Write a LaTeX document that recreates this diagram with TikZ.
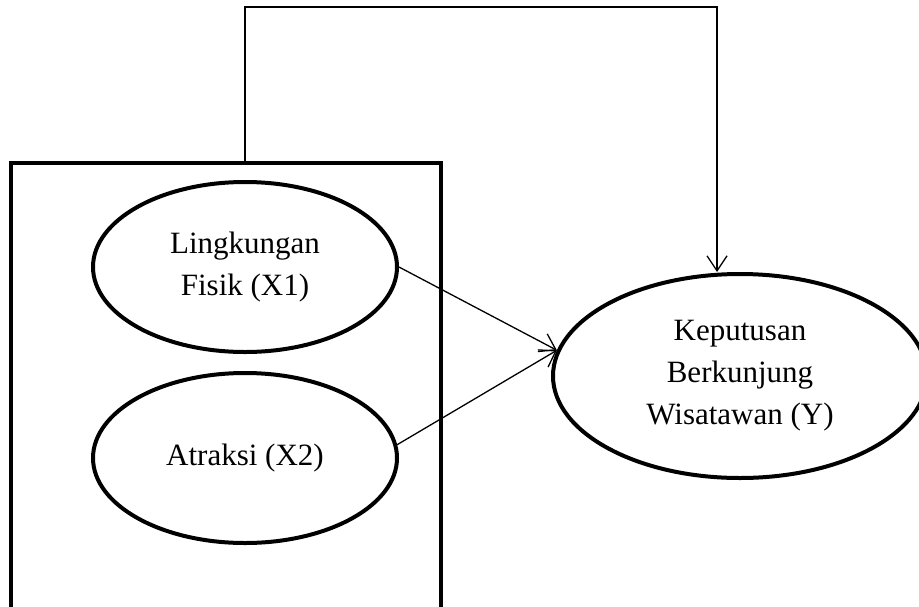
\documentclass[tikz,border=0pt]{standalone}
\usepackage{fontspec}
\setmainfont{Liberation Serif}
\usetikzlibrary{shapes.geometric, arrows.meta, positioning, calc}

\begin{document}
\begin{tikzpicture}[x=1pt, y=-1pt,
  font=\fontsize{31}{42}\selectfont,
  var/.style={ellipse, draw, line width=4pt, inner sep=0pt, align=center},
  frame/.style={draw, line width=4pt, inner sep=0pt},
  link/.style={line width=1.3pt, -{Straight Barb[length=15pt, width=20pt, line width=1.3pt]}}]

  % page size as in the figure
  \useasboundingbox (0,0) rectangle (919,606);

  % box round the two X variables
  \node[frame, minimum width=430pt, minimum height=450pt] (frame) at (226,388) {};

  % variables
  \node[var, minimum width=304pt, minimum height=170pt] (lk) at (245,267)
        {Lingkungan\\Fisik (X1)};
  \node[var, minimum width=304pt, minimum height=170pt] (at) at (245,458)
        {Atraksi (X2)};
  \node[var, minimum width=374pt, minimum height=204pt] (kp) at (740,376)
        {Keputusan\\Berkunjung\\Wisatawan (Y)};

  % connectors
  \draw[link] (lk.east) -- (kp.172);
  \draw[link] (at.5) -- (kp.172);

  \coordinate (corner) at (717,7);
  \draw[link] (lk.center |- frame.north) |- (corner) -- (corner |- kp.north);

\end{tikzpicture}
\end{document}
